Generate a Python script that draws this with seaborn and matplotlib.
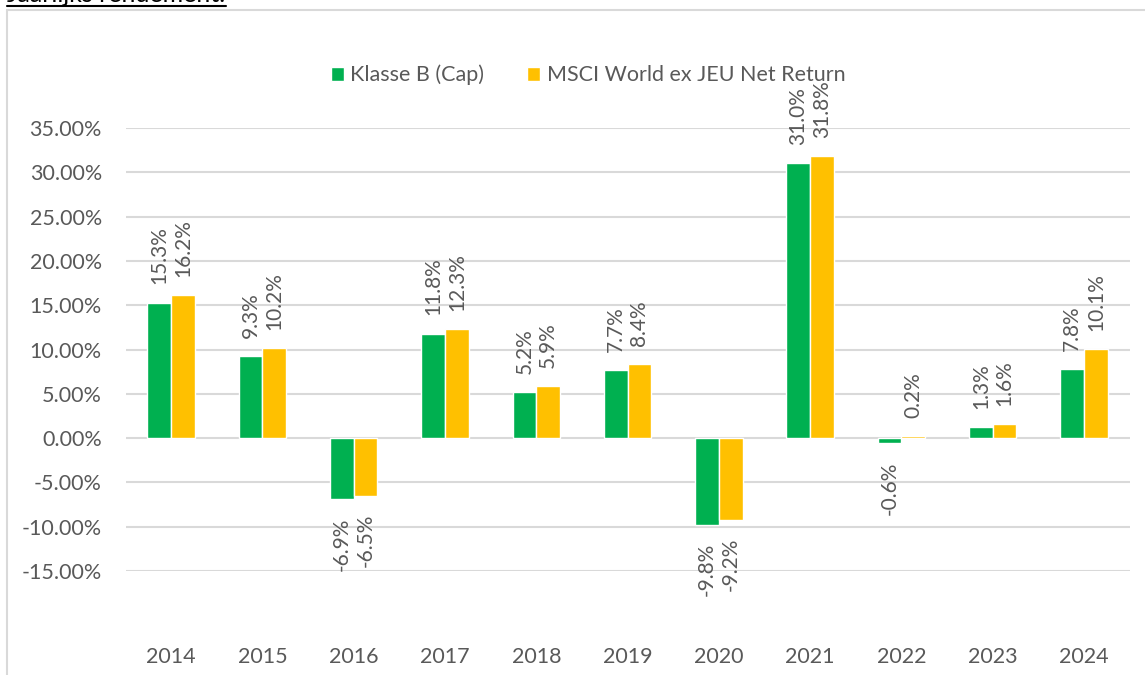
import matplotlib
matplotlib.use("Agg")
import matplotlib.pyplot as plt
from matplotlib.lines import Line2D
from matplotlib.patches import Rectangle
from matplotlib.ticker import FuncFormatter, MultipleLocator
import seaborn as sns
import pandas as pd

jaren = ['2014', '2015', '2016', '2017', '2018', '2019', '2020', '2021', '2022', '2023', '2024']
klasse_b = [15.3, 9.3, -6.9, 11.8, 5.2, 7.7, -9.8, 31.0, -0.6, 1.3, 7.8]
msci = [16.2, 10.2, -6.5, 12.3, 5.9, 8.4, -9.2, 31.8, 0.2, 1.6, 10.1]
reeksen = ['Klasse B (Cap)', 'MSCI World ex JEU Net Return']
kleuren = ['#00B050', '#FFC000']

df = pd.DataFrame({
    'Jaar': jaren * 2,
    'Rendement': klasse_b + msci,
    'Reeks': [reeksen[0]] * len(jaren) + [reeksen[1]] * len(jaren),
})

sns.set_style("white")
plt.rcParams['font.family'] = ['Lato', 'DejaVu Sans']
grijs = '#595959'

fig = plt.figure(figsize=(11.45, 6.75), dpi=100)
ax = fig.add_axes([125.5 / 1145, 1 - 571 / 675, (1129.6 - 125.5) / 1145, (571 - 128) / 675])

sns.barplot(data=df, x='Jaar', y='Rendement', hue='Reeks', palette=kleuren,
            width=0.52, saturation=1, ax=ax, legend=True, zorder=3)

for cont, waarden in zip(ax.containers, [klasse_b, msci]):
    ax.bar_label(cont, labels=[f"{v:.1f}%" for v in waarden], rotation=90,
                 padding=13, color=grijs, fontsize=15)

ax.set_ylim(-15, 35)
ax.yaxis.set_major_locator(MultipleLocator(5))
ax.yaxis.set_major_formatter(FuncFormatter(lambda v, p: f"{v:.2f}%"))
ax.grid(axis='y', color='#d9d9d9', linewidth=1.5, zorder=0)
ax.set_axisbelow(True)
for s in ax.spines.values():
    s.set_visible(False)
ax.set_xlabel('')
ax.set_ylabel('')
ax.tick_params(axis='y', length=0, pad=17, labelsize=15.5, labelcolor=grijs)
ax.tick_params(axis='x', length=0, pad=55, labelsize=15.5, labelcolor=grijs)

# legenda bovenaan
h, l = ax.get_legend_handles_labels()
ax.get_legend().remove()
fig.legend(h, l, loc='center', bbox_to_anchor=(588 / 1145, 1 - 75 / 675), ncol=2,
           frameon=False, handlelength=0.6, handleheight=0.6, handletextpad=0.3,
           columnspacing=2.0, fontsize=15.5, labelcolor=grijs)

# kader rond de grafiek
fig.add_artist(Rectangle((7 / 1145, -0.05), 1.2, 1 - 10 / 675 + 0.05, transform=fig.transFigure,
                         fill=False, edgecolor='#d9d9d9', linewidth=1.5))

# titel (afgesneden bovenaan)
fig.text(7 / 1145, 1 - 2 / 675, 'Jaarlijks rendement:', fontsize=18, color='black',
         va='baseline', ha='left')
fig.add_artist(Line2D([7 / 1145, 226 / 1145], [1 - 5.5 / 675, 1 - 5.5 / 675],
                      transform=fig.transFigure, color='black', linewidth=1.5))

fig.savefig('out.png', dpi=100)
